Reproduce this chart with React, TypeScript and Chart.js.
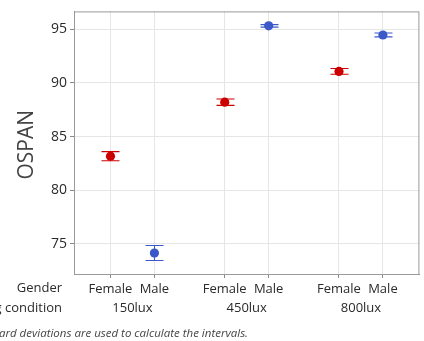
import React, { useEffect, useRef } from "react";
import { Chart, registerables } from "chart.js";

Chart.register(...registerables);

const genderLabels = ["Female", "Male"];
const lightingGroups = ["150lux", "450lux", "800lux"];
const femaleMeans = [83.17, 88.21, 91.08];
const femaleErr = [0.43, 0.3, 0.27];
const maleMeans = [74.14, 95.33, 94.48];
const maleErr = [0.7, 0.12, 0.18];
const yTickValues = [75, 80, 85, 90, 95];

const FONT = "'Open Sans', 'Noto Sans', sans-serif";
const GROUP_STEP = 2.6;
const xOf = (g: number, k: number) => g * GROUP_STEP + k;

export default function App() {
  const ref = useRef<HTMLCanvasElement | null>(null);

  useEffect(() => {
    document.body.style.margin = "0";
    const canvas = ref.current!;
    const series = [
      { label: "Female", means: femaleMeans, err: femaleErr, color: "#cc0000", k: 0 },
      { label: "Male", means: maleMeans, err: maleErr, color: "#3a58c8", k: 1 },
    ];
    const tickPositions: number[] = [];
    lightingGroups.forEach((_, g) => genderLabels.forEach((__, k) => tickPositions.push(xOf(g, k))));

    const annotate = {
      id: "annotate",
      beforeDatasetsDraw(chart: any) {
        const { ctx, chartArea, scales } = chart;
        const xs = scales.x, ys = scales.y;
        ctx.save();
        ctx.strokeStyle = "#9a9a9a";
        ctx.lineWidth = 1;
        ctx.strokeRect(chartArea.left + 0.5, chartArea.top + 0.5, chartArea.right - chartArea.left - 1, chartArea.bottom - chartArea.top);
        chart.data.datasets.forEach((ds: any, di: number) => {
          const s = series[di];
          ctx.strokeStyle = s.color;
          ctx.lineWidth = 1.1;
          ds.data.forEach((p: any, i: number) => {
            const px = Math.round(xs.getPixelForValue(p.x)) + 0.5;
            const top = ys.getPixelForValue(p.y + s.err[i]);
            const bot = ys.getPixelForValue(p.y - s.err[i]);
            ctx.beginPath();
            ctx.moveTo(px, top); ctx.lineTo(px, bot);
            ctx.moveTo(px - 9, top); ctx.lineTo(px + 9, top);
            ctx.moveTo(px - 9, bot); ctx.lineTo(px + 9, bot);
            ctx.stroke();
          });
        });
        ctx.restore();
      },
      afterDraw(chart: any) {
        const { ctx, chartArea, scales } = chart;
        const xs = scales.x;
        ctx.save();
        ctx.fillStyle = "#444";
        ctx.font = `21px ${FONT}`;
        ctx.translate(27, (chartArea.top + chartArea.bottom) / 2 + 2);
        ctx.rotate(-Math.PI / 2);
        ctx.textAlign = "center";
        ctx.textBaseline = "middle";
        ctx.fillText("OSPAN", 0, 0);
        ctx.restore();

        ctx.save();
        ctx.fillStyle = "#2a2a2a";
        ctx.font = `13px ${FONT}`;
        ctx.textBaseline = "middle";
        ctx.textAlign = "right";
        ctx.fillText("Gender", 62, 288);
        ctx.fillText("Lighting condition", 62, 308);
        ctx.textAlign = "center";
        lightingGroups.forEach((lab, g) => {
          const cx = (xs.getPixelForValue(xOf(g, 0)) + xs.getPixelForValue(xOf(g, 1))) / 2;
          ctx.fillText(lab, cx, 308);
        });
        ctx.font = `italic 11.5px ${FONT}`;
        ctx.fillStyle = "#444";
        ctx.textAlign = "right";
        ctx.fillText("Individual standard deviations are used to calculate the intervals.", 248, 334);
        ctx.restore();
      },
    };

    const chart = new Chart(canvas, {
      type: "scatter",
      data: {
        datasets: series.map((s) => ({
          label: s.label,
          data: s.means.map((m, g) => ({ x: xOf(g, s.k), y: m })),
          backgroundColor: s.color,
          borderColor: s.color,
          pointRadius: 4.6,
          pointHoverRadius: 4.6,
          borderWidth: 0,
        })),
      },
      options: {
        animation: false,
        responsive: false,
        maintainAspectRatio: false,
        layout: { padding: { top: 7, right: 2, left: 0, bottom: 0 } },
        plugins: { legend: { display: false }, tooltip: { enabled: false } },
        scales: {
          x: {
            type: "linear",
            min: -0.83,
            max: 2 * GROUP_STEP + 1 + 0.83,
            afterBuildTicks: (axis: any) => {
              axis.ticks = tickPositions.map((v) => ({ value: v }));
            },
            afterFit: (axis: any) => { axis.height = 67; },
            ticks: {
              autoSkip: false,
              maxRotation: 0,
              padding: 3,
              color: "#2a2a2a",
              font: { family: FONT, size: 13 },
              callback: (v: any) => {
                const idx = tickPositions.findIndex((t) => Math.abs(t - Number(v)) < 1e-6);
                return idx >= 0 ? genderLabels[idx % 2] : "";
              },
            },
            grid: { color: "#e6e6e6", tickColor: "#8a8a8a", tickLength: 4 },
            border: { color: "#8a8a8a" },
          },
          y: {
            min: 72.18,
            max: 96.68,
            afterBuildTicks: (axis: any) => {
              axis.ticks = yTickValues.map((v) => ({ value: v }));
            },
            afterFit: (axis: any) => { axis.width = 74; },
            ticks: {
              padding: 3,
              color: "#2a2a2a",
              font: { family: FONT, size: 14 },
            },
            grid: { color: "#e6e6e6", tickColor: "#8a8a8a", tickLength: 4 },
            border: { color: "#8a8a8a" },
          },
        },
      },
      plugins: [annotate],
    } as any);
    return () => chart.destroy();
  }, []);

  return (
    <div style={{ position: "absolute", left: 0, top: 0, width: 424, height: 341 }}>
      <canvas ref={ref} width={424} height={341} style={{ width: 424, height: 341, display: "block" }} />
    </div>
  );
}
